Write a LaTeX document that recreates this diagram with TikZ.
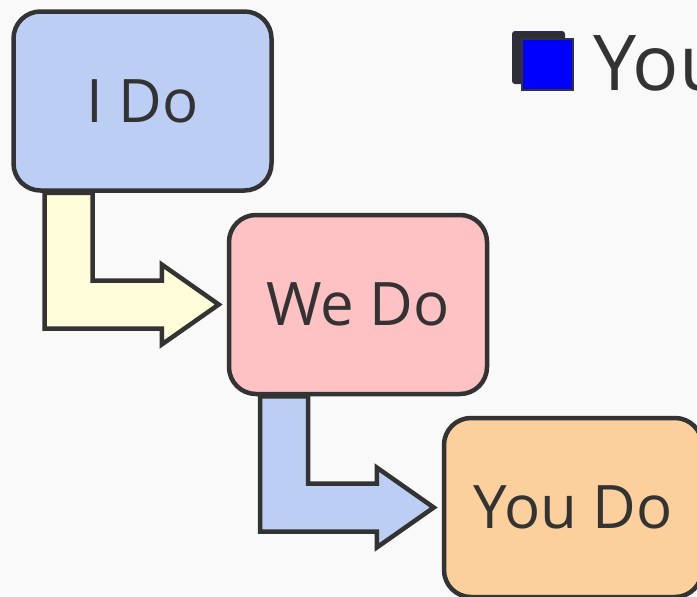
\documentclass[tikz,border=0pt]{standalone}
\usepackage{fontspec}
\setmainfont{Open Sans}
\usetikzlibrary{calc}
\pgfdeclarelayer{background}
\pgfsetlayers{background,main}
\definecolor{ink}{HTML}{333333}
\definecolor{paper}{HTML}{F9F9F9}
\definecolor{idoblue}{HTML}{BCCEF4}
\definecolor{wedopink}{HTML}{FFC2C4}
\definecolor{youdoorange}{HTML}{FCD09D}
\definecolor{arrowyellow}{HTML}{FFFCD9}
\definecolor{legenddark}{HTML}{2E2E38}
\tikzset{do box/.style={draw=ink,line width=4.5pt,rounded corners=27pt,minimum width=258pt,minimum height=179pt,inner sep=0pt,text=ink,font=\fontsize{60}{60}\selectfont}}
\tikzset{bent arrow/.style={draw=ink,line width=4.5pt,miter limit=10}}
\newcommand{\bentarrow}[3]{%
  \draw[bent arrow,fill=#3] let \p1=(#1.south), \p2=(#2.west) in
    (\x1-98pt,\y1) -- (\x1-50pt,\y1) -- (\x1-50pt,\y2+24pt) -- (\x2-65pt,\y2+24pt)
    -- (\x2-65pt,\y2+40pt) -- (\x2-8pt,\y2) -- (\x2-65pt,\y2-40pt)
    -- (\x2-65pt,\y2-24pt) -- (\x1-98pt,\y2-24pt) -- cycle;}
\begin{document}
\begin{tikzpicture}[x=1pt,y=-1pt]

  %背景
  \useasboundingbox (0,0) rectangle (697,597);
  \clip (0,0) rectangle (697,597);
  \begin{pgfonlayer}{background}
    \fill[paper] (0,0) rectangle (697,597);
  \end{pgfonlayer}

  %箱
  \node[do box,fill=idoblue] (ido) at (142.5,101) {I Do};
  \node[do box,fill=wedopink] (wedo) at (358,304.5) {We Do};
  \node[do box,fill=youdoorange] (youdo) at (573,507.5) {You Do};

  %矢印
  \begin{pgfonlayer}{background}
    \bentarrow{ido}{wedo}{arrowyellow}
    \bentarrow{wedo}{youdo}{idoblue}
  \end{pgfonlayer}

  %凡例
  \node[fill=legenddark,rounded corners=3pt,minimum size=53pt,inner sep=0pt] (legdark) at (538.5,57.5) {};
  \node[fill=blue,draw=ink,line width=2.5pt,minimum size=51pt,inner sep=0pt] (legblue) at (547.5,64.5) {};
  \node[anchor=base west,inner sep=0pt,text=ink,font=\fontsize{77}{77}\selectfont] (you) at (593,90) {You};

\end{tikzpicture}
\end{document}
